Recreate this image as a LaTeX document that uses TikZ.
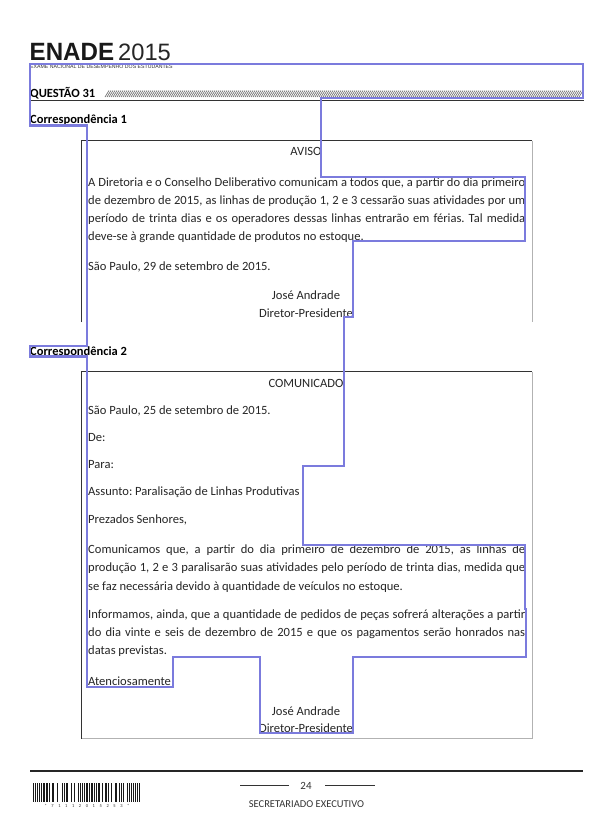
\documentclass[tikz,border=0pt]{standalone}
\usepackage{fontspec}
\setmainfont{Carlito}
\newfontfamily\heros{Liberation Sans}
\definecolor{bluepoly}{HTML}{7B7BDD}
\frenchspacing
\newcommand{\jl}[1]{\makebox[437pt][s]{#1}}
\tikzset{
  txt/.style={anchor=base west,inner sep=0pt,font=\fontsize{12.55pt}{14pt}\selectfont,text=black!85},
  ctr/.style={anchor=base,inner sep=0pt,font=\fontsize{12.55pt}{14pt}\selectfont,text=black!85},
  hd/.style={anchor=base west,inner sep=0pt,font=\fontsize{12.5pt}{14pt}\selectfont\bfseries},
  outline/.style={draw=bluepoly,line width=2.2pt,line join=miter}
}
\begin{document}
\begin{tikzpicture}[x=1pt,y=-1pt]
\useasboundingbox (0,0) rectangle (613,823);
\fill[white] (0,0) rectangle (613,823);
% header
\node[anchor=base west,inner sep=0pt,font=\heros\bfseries\fontsize{25pt}{27pt}\selectfont,text=black!90] (enade) at (29.5,60) {\scalebox{.965}[1]{ENADE}};
\node[anchor=base west,inner sep=0pt,font=\heros\fontsize{23.7pt}{26pt}\selectfont,text=black!85] (year) at (118,60) {2015};
\node[anchor=base west,inner sep=0pt,font=\heros\fontsize{5.2pt}{6pt}\selectfont,text=black!80] (exam) at (30,68) {EXAME NACIONAL DE DESEMPENHO DOS ESTUDANTES};
\node[hd] (q) at (30,97) {QUESTÃO 31};
\foreach \x in {105,107,...,579} \draw[black!60,line width=0.6pt] (\x,97) -- (\x+4,90.5);
\draw[black!80,line width=0.8pt] (30,100.3) -- (584,100.3);
% correspondencia 1
\node[hd] (c1) at (30,123) {Correspondência 1};
\draw[black!80,line width=0.8pt] (81.5,322) -- (81.5,140.5) -- (532,140.5);
\draw[black!30,line width=0.8pt] (532,140.5) -- (532,322);
\node[ctr] (aviso) at (306,155) {AVISO};
\node[txt] (a1) at (88,186) {\jl{A Diretoria e o Conselho Deliberativo comunicam a todos que, a partir do dia primeiro}};
\node[txt] (a2) at (88,204) {\jl{de dezembro de 2015, as linhas de produção 1, 2 e 3 cessarão suas atividades por um}};
\node[txt] (a3) at (88,222) {\jl{período de trinta dias e os operadores dessas linhas entrarão em férias. Tal medida}};
\node[txt] (a4) at (88,240) {deve-se à grande quantidade de produtos no estoque.};
\node[txt] (a5) at (88,270) {São Paulo, 29 de setembro de 2015.};
\node[ctr] (a6) at (306,299) {José Andrade};
\node[ctr] (a7) at (306,317) {Diretor-Presidente};
% correspondencia 2
\node[hd] (c2) at (30,355) {Correspondência 2};
\draw[black!80,line width=0.8pt] (81.5,738.5) -- (81.5,371.5) -- (532,371.5);
\draw[black!30,line width=0.8pt] (532,371.5) -- (532,738.5) -- (81.5,738.5);
\node[ctr] (com) at (306,387) {COMUNICADO};
\node[txt] (b1) at (88,414) {São Paulo, 25 de setembro de 2015.};
\node[txt] (b2) at (88,441) {De:};
\node[txt] (b3) at (88,468) {Para:};
\node[txt] (b4) at (88,495) {Assunto: Paralisação de Linhas Produtivas};
\node[txt] (b5) at (88,523) {Prezados Senhores,};
\node[txt] (b6) at (88,553) {\jl{Comunicamos que, a partir do dia primeiro de dezembro de 2015, as linhas de}};
\node[txt] (b7) at (88,571) {\jl{produção 1, 2 e 3 paralisarão suas atividades pelo período de trinta dias, medida que}};
\node[txt] (b8) at (88,590) {se faz necessária devido à quantidade de veículos no estoque.};
\node[txt] (b9) at (88,618) {\jl{Informamos, ainda, que a quantidade de pedidos de peças sofrerá alterações a partir}};
\node[txt] (b10) at (88,636) {\jl{do dia vinte e seis de dezembro de 2015 e que os pagamentos serão honrados nas}};
\node[txt] (b11) at (88,654) {datas previstas.};
\node[txt] (b12) at (88,685) {Atenciosamente};
\node[ctr] (b13) at (306,715) {José Andrade};
\node[ctr] (b14) at (306,732.5) {Diretor-Presidente};
% footer
\draw[black!85,line width=1.4pt] (30,771) -- (583,771);
\draw[black!80,line width=0.8pt] (240,785) -- (289,785);
\draw[black!80,line width=0.8pt] (325,785) -- (375,785);
\node[anchor=base,inner sep=0pt,font=\fontsize{11pt}{12pt}\selectfont,text=black!80] (pg) at (306,789) {24};
\node[anchor=base,inner sep=0pt,font=\fontsize{10.5pt}{12pt}\selectfont,text=black!80] (sec) at (306.5,807) {SECRETARIADO EXECUTIVO};
\foreach \x/\w in {33/1,35/1,37/1,39/1,41/1,43/2,46/2.4,49/1.4,52/2.4,57/1.4,62/1,64/1,66/2.4,71/1.4,74/1,78/1,80/1,82/1,84/1,86/2,89/1,91/2.4,94/1,96/1,98/2.4,102/1,105/2.4,108/1.4,111/1.4,115/2.4,119/1,121/1,123/1,127/1,129/1,131/1,133/1,135/1,137/1,139/1}
  \fill[black!90] (\x,783) rectangle (\x+\w,802);
\node[anchor=base,inner sep=0pt,font=\fontsize{4.5pt}{5pt}\selectfont,text=black!80] (bc) at (87,807.5) {*\hspace{4.6pt}7\hspace{4.6pt}1\hspace{4.6pt}1\hspace{4.6pt}1\hspace{4.6pt}2\hspace{4.6pt}0\hspace{4.6pt}1\hspace{4.6pt}5\hspace{4.6pt}2\hspace{4.6pt}5\hspace{4.6pt}3\hspace{4.6pt}*};
% highlight outline
\draw[outline] (30,64) -- (583,64) -- (583,98) -- (321,98) -- (321,177) -- (525,177) -- (525,241) -- (353,241) -- (353,317) -- (344,317) -- (344,466) -- (303,466) -- (303,545) -- (525,545) -- (525,609) -- (526,609) -- (526,657) -- (353,657) -- (353,733) -- (260,733) -- (260,657) -- (173,657) -- (173,687) -- (87,687) -- (87,356.5) -- (30,356.5) -- (30,346) -- (87,346) -- (87,125.5) -- (30,125.5) -- cycle;
\end{tikzpicture}
\end{document}
